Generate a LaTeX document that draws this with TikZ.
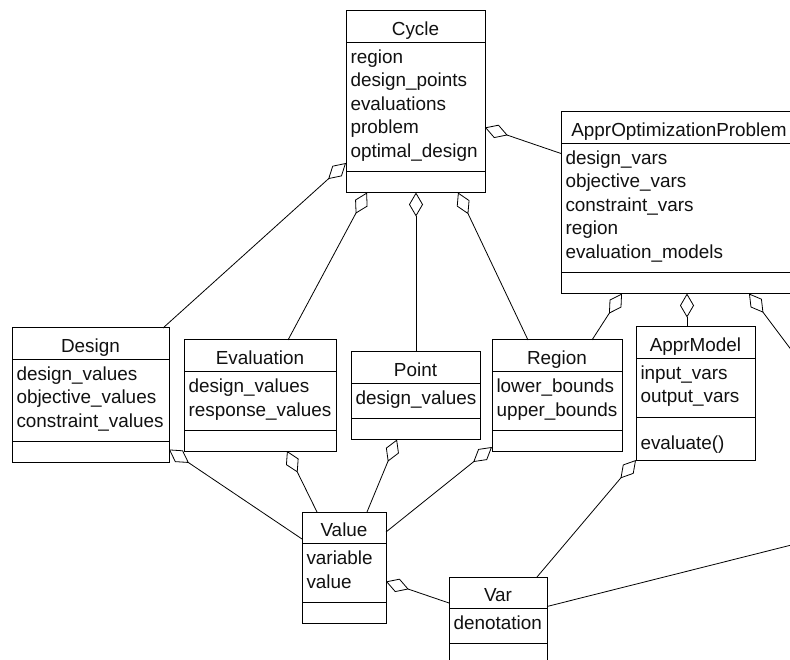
\documentclass[tikz,border=0pt]{standalone}
\usepackage{fontspec}
\setmainfont{Liberation Sans}
\usetikzlibrary{arrows.meta,positioning}
\definecolor{umlLine}{HTML}{000000}
\definecolor{umlText}{HTML}{111111}
\newcommand\umlfont{\fontsize{18.9pt}{23.5pt}\selectfont}
\newcommand\attrtop{\rule{0pt}{21pt}}
\newcommand\attrbot{\rule[-14pt]{0pt}{14pt}}

\begin{document}
\begin{tikzpicture}[
  x=1pt,y=-1pt,
  umlbox/.style={draw=umlLine, line width=1pt, fill=white, font=\umlfont,
    text=umlText, inner xsep=4.5pt, inner ysep=0pt, outer sep=0pt},
  umlhead/.style={umlbox, align=center, text height=24.5pt, text depth=7pt},
  umlattr/.style={umlbox, align=left, execute at begin node=\attrtop,
    execute at end node=\attrbot},
  umlops/.style={umlbox, align=left, minimum height=21pt},
  agg/.style={{Diamond[open, length=24pt, width=14pt]}-, draw=umlLine,
    line width=0.8pt},
  link/.style={draw=umlLine, line width=0.8pt}
]
\useasboundingbox (0,0) rectangle (790,660);
\clip (0,0) rectangle (790,660);

\node[umlhead, text width=130pt, anchor=north west] (cycle) at (346,11) {Cycle};
\node[umlattr, text width=130pt, below=0pt of cycle] (cycle-a)
  {region\\design\_points\\evaluations\\problem\\optimal\_design};
\node[umlops, text width=130pt, below=0pt of cycle-a] (cycle-m) {};

\node[umlhead, text width=227pt, anchor=north west] (aop) at (561,112)
  {ApprOptimizationProblem};
\node[umlattr, text width=227pt, below=0pt of aop] (aop-a)
  {design\_vars\\objective\_vars\\constraint\_vars\\region\\evaluation\_models};
\node[umlops, text width=227pt, below=0pt of aop-a] (aop-m) {};

\node[umlhead, text width=148pt, anchor=north west] (design) at (12,328) {Design};
\node[umlattr, text width=148pt, below=0pt of design] (design-a)
  {design\_values\\objective\_values\\constraint\_values};
\node[umlops, text width=148pt, below=0pt of design-a] (design-m) {};

\node[umlhead, text width=143pt, anchor=north west] (eval) at (184,340) {Evaluation};
\node[umlattr, text width=143pt, below=0pt of eval] (eval-a)
  {design\_values\\response\_values};
\node[umlops, text width=143pt, below=0pt of eval-a] (eval-m) {};

\node[umlhead, text width=120pt, anchor=north west] (point) at (351,352) {Point};
\node[umlattr, text width=120pt, below=0pt of point] (point-a) {design\_values};
\node[umlops, text width=120pt, below=0pt of point-a] (point-m) {};

\node[umlhead, text width=121pt, anchor=north west] (region) at (492,340) {Region};
\node[umlattr, text width=121pt, below=0pt of region] (region-a)
  {lower\_bounds\\upper\_bounds};
\node[umlops, text width=121pt, below=0pt of region-a] (region-m) {};

\node[umlhead, text width=110pt, anchor=north west] (model) at (636,327) {ApprModel};
\node[umlattr, text width=110pt, below=0pt of model] (model-a)
  {input\_vars\\output\_vars};
\node[umlops, text width=110pt, text height=32pt, text depth=11pt,
  below=0pt of model-a] (model-m) {evaluate()};

\node[umlhead, text width=75pt, anchor=north west] (value) at (302,512) {Value};
\node[umlattr, text width=75pt, below=0pt of value] (value-a) {variable\\value};
\node[umlops, text width=75pt, below=0pt of value-a] (value-m) {};

\node[umlhead, text width=89pt, anchor=north west] (var) at (449,577) {Var};
\node[umlattr, text width=89pt, below=0pt of var] (var-a) {denotation};
\node[umlops, text width=89pt, below=0pt of var-a] (var-m) {};

% ends outside the frame
\coordinate (farA) at (831,403);
\coordinate (farB) at (863,527);

\draw[agg] ([yshift=8.5pt]cycle-a.south west) -- ([xshift=-6pt]design.north east);
\draw[agg] ([xshift=21pt]cycle-m.south west) -- ([xshift=104pt]eval.north west);
\draw[agg] ([xshift=70pt]cycle-m.south west) -- ([xshift=65pt]point.north west);
\draw[agg] ([xshift=-27pt]cycle-m.south east) -- ([xshift=36pt]region.north west);
\draw[agg] ([yshift=-85pt]cycle-a.north east) -- ([yshift=-10pt]aop-a.north west);
\draw[agg] ([xshift=61pt]aop-m.south west) -- ([xshift=-30pt]region.north east);
\draw[agg] ([xshift=126pt]aop-m.south west) -- ([xshift=51pt]model.north west);
\draw[agg] ([xshift=188pt]aop-m.south west) -- (farA);
\draw[agg] ([yshift=-8pt]design-m.north east) -- ([yshift=-27pt]value.north west);
\draw[agg] ([xshift=103pt]eval-m.south west) -- ([xshift=15pt]value.north west);
\draw[agg] ([xshift=46pt]point-m.south west) -- ([xshift=65pt]value.north west);
\draw[agg] ([yshift=4pt]region-m.south west) -- ([yshift=-20pt]value.north east);
\draw[agg] (model-m.south west) -- ([xshift=88pt]var.north west);
\draw[agg] ([yshift=-38pt]value-a.north east) -- ([yshift=-26pt]var.north west);
\draw[link] ([yshift=2pt]var.south east) -- (farB);
\end{tikzpicture}
\end{document}
